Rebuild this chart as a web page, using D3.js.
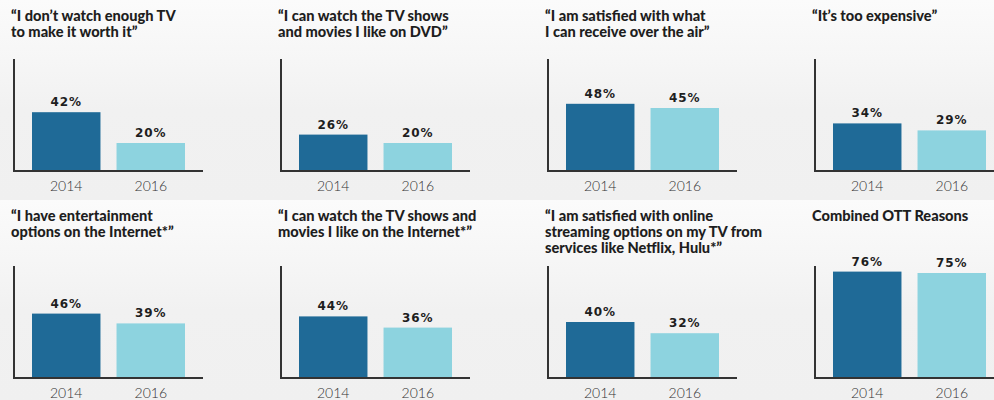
<!DOCTYPE html>
<html>
<head>
<meta charset="utf-8">
<script src="https://cdn.jsdelivr.net/npm/d3@7"></script>
<style>
  html, body { margin: 0; padding: 0; background: #f2f2f2; }
  svg { display: block; }
</style>
</head>
<body>
<svg id="chart" width="994" height="400"></svg>
<script>
// Survey reasons for not subscribing to pay TV, 2014 vs 2016
const titles = [
  ["\u201CI don\u2019t watch enough TV", "to make it worth it\u201D"],
  ["\u201CI can watch the TV shows", "and movies I like on DVD\u201D"],
  ["\u201CI am satisfied with what", "I can receive over the air\u201D"],
  ["\u201CIt\u2019s too expensive\u201D"],
  ["\u201CI have entertainment", "options on the Internet*\u201D"],
  ["\u201CI can watch the TV shows and", "movies I like on the Internet*\u201D"],
  ["\u201CI am satisfied with online", "streaming options on my TV from", "services like Netflix, Hulu*\u201D"],
  ["Combined OTT Reasons"]
];
const years = ["2014", "2016"];
const values2014 = [42, 26, 48, 34, 46, 44, 40, 76];
const values2016 = [20, 20, 45, 29, 39, 36, 32, 75];

const colors = { "2014": "#1f6a97", "2016": "#8dd3df" };

const svg = d3.select("#chart");
const W = 994, H = 400;

// background bands, slightly lighter at the top of each row
const defs = svg.append("defs");
const grad = defs.append("linearGradient")
  .attr("id", "rowbg").attr("x1", 0).attr("x2", 0).attr("y1", 0).attr("y2", 1);
grad.append("stop").attr("offset", "0%").attr("stop-color", "#fbfbfb");
grad.append("stop").attr("offset", "30%").attr("stop-color", "#f6f6f6");
grad.append("stop").attr("offset", "55%").attr("stop-color", "#f1f1f1");
grad.append("stop").attr("offset", "100%").attr("stop-color", "#f0f0f0");
[0, 200].forEach(y0 => {
  svg.append("rect").attr("x", 0).attr("y", y0).attr("width", W).attr("height", 200)
    .attr("fill", "url(#rowbg)");
});

// panel layout
const colX = d3.scaleLinear().domain([0, 3]).range([14, 815]);
const rowTop = [0, 200];
const rowBase = [171, 378];
const plotW = 189;
const y = d3.scaleLinear().domain([0, 80]).range([0, 112]);
const x = d3.scaleBand().domain(years).range([0, plotW])
  .paddingInner(0.19).paddingOuter(0.213);

titles.forEach((lines, i) => {
  const row = Math.floor(i / 4), col = i % 4;
  const ax = colX(col);
  const base = rowBase[row];
  const g = svg.append("g");

  // title, one text element per line
  lines.forEach((ln, k) => {
    g.append("text")
      .attr("x", ax - 3)
      .attr("y", rowTop[row] + 21 + k * 16)
      .attr("font-family", "Lato, 'Noto Sans', sans-serif")
      .attr("font-weight", 900)
      .attr("font-size", 14.6)
      .attr("fill", "#1e1e1e")
      .text(ln);
  });

  const vals = [values2014[i], values2016[i]];
  const data = years.map((yr, k) => ({ year: yr, value: vals[k] }));

  // bars
  g.selectAll("rect.bar").data(data).join("rect")
    .attr("class", "bar")
    .attr("x", d => ax + x(d.year))
    .attr("width", x.bandwidth())
    .attr("y", d => base - y(d.value))
    .attr("height", d => y(d.value))
    .attr("fill", d => colors[d.year]);

  // value labels
  g.selectAll("text.val").data(data).join("text")
    .attr("class", "val")
    .attr("x", d => ax + x(d.year) + x.bandwidth() / 2)
    .attr("y", d => base - y(d.value) - 6)
    .attr("text-anchor", "middle")
    .attr("font-family", "'DejaVu Sans', sans-serif")
    .attr("font-weight", "bold")
    .attr("font-size", 12)
    .attr("letter-spacing", 0.9)
    .attr("fill", "#1e1e1e")
    .text(d => d.value + "%");

  // axis lines
  g.append("line")
    .attr("x1", ax).attr("x2", ax)
    .attr("y1", base - y(80)).attr("y2", base + 1)
    .attr("stroke", "#333").attr("stroke-width", 2);
  g.append("line")
    .attr("x1", ax - 1).attr("x2", ax + plotW)
    .attr("y1", base).attr("y2", base)
    .attr("stroke", "#333").attr("stroke-width", 2);

  // year labels
  g.selectAll("text.yr").data(data).join("text")
    .attr("class", "yr")
    .attr("x", d => ax + x(d.year) + x.bandwidth() / 2)
    .attr("y", base + 20)
    .attr("text-anchor", "middle")
    .attr("font-family", "Lato, 'Noto Sans', sans-serif")
    .attr("font-weight", 300)
    .attr("font-size", 14)
    .attr("fill", "#333")
    .text(d => d.year);
});
</script>
</body>
</html>
